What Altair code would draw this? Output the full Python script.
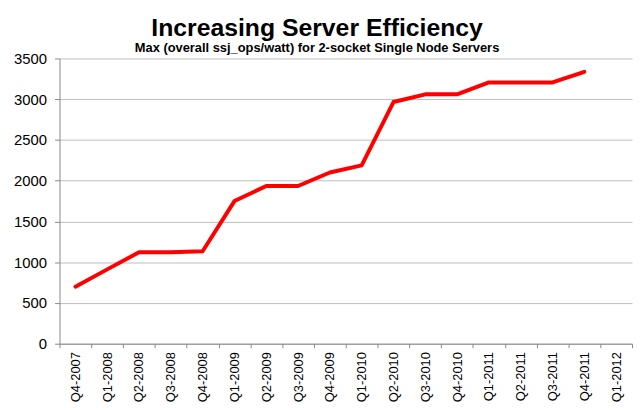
import altair as alt
import pandas as pd

quarters = ["Q4-2007", "Q1-2008", "Q2-2008", "Q3-2008", "Q4-2008", "Q1-2009",
            "Q2-2009", "Q3-2009", "Q4-2009", "Q1-2010", "Q2-2010", "Q3-2010",
            "Q4-2010", "Q1-2011", "Q2-2011", "Q3-2011", "Q4-2011", "Q1-2012"]
values = [700, 912, 1122, 1122, 1135, 1750, 1935, 1935, 2100, 2188, 2965,
          3060, 3060, 3205, 3205, 3205, 3335]
y_ticks = [0, 500, 1000, 1500, 2000, 2500, 3000, 3500]

df = pd.DataFrame({"quarter": quarters[:len(values)], "value": values})

FONT = "Liberation Sans"

chart = alt.Chart(df).mark_line(color="#ff0000", strokeWidth=4, strokeCap="round", strokeJoin="round").encode(
    x=alt.X("quarter:N", sort=quarters, bandPosition=0.5,
            scale=alt.Scale(type="band", domain=quarters, paddingInner=0, paddingOuter=0),
            axis=alt.Axis(title=None, labelAngle=270, labelFontSize=13, labelFont=FONT,
                          labelColor="#000000", tickBand="extent", tickSize=4,
                          tickColor="#888888", domainColor="#888888", labelPadding=4,
                          grid=False)),
    y=alt.Y("value:Q", scale=alt.Scale(domain=[0, 3500], nice=False),
            axis=alt.Axis(title=None, values=y_ticks, format="d", labelFontSize=15, labelFont=FONT,
                          labelColor="#000000", tickSize=5, tickColor="#888888",
                          domainColor="#888888", gridColor="#bdbdbd", labelPadding=8)),
).properties(
    width=578,
    height=288,
    padding={"left": 52, "top": 49, "right": 2, "bottom": 64},
    autosize=alt.AutoSizeParams(type="none"),
    title=alt.TitleParams(
        text="Increasing Server Efficiency",
        subtitle="Max (overall ssj_ops/watt) for 2-socket Single Node Servers",
        font=FONT, fontSize=25, fontWeight="bold", color="#000000",
        subtitleFont=FONT, subtitleFontSize=13, subtitleFontWeight="bold",
        subtitleColor="#000000", subtitlePadding=2,
        anchor="middle", dx=-29, offset=-4,
    ),
).configure_view(strokeWidth=0)

chart.save("out.html", embed_options={"renderer": "svg", "actions": False})
